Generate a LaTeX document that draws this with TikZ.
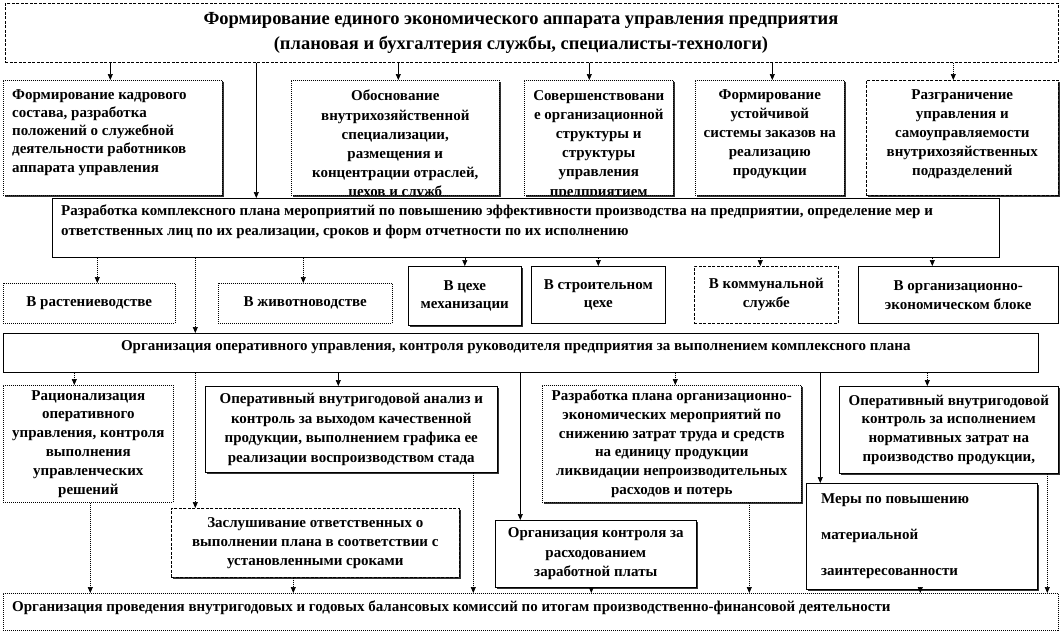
\documentclass[tikz,border=0pt]{standalone}
\usepackage{fontspec}
\setmainfont{Liberation Serif}
\usetikzlibrary{arrows.meta,calc,shadows}
\newcommand{\vconn}[5]{\draw[#1] ($(#2 -| #4)+(#5,0)$) -- ($(#3 -| #4)+(#5,0)$);}
\begin{document}
\begin{tikzpicture}[x=1pt,y=-1pt,
  every node/.style={font=\bfseries\fontsize{15}{18.8}\selectfont},
  box/.style={anchor=north west, inner sep=0pt, fill=white, line width=0.6pt, align=center},
  dotb/.style={box, draw, dash pattern=on 1pt off 1pt},
  dashb/.style={box, draw, dash pattern=on 3pt off 1.5pt},
  solb/.style={box, draw},
  shad/.style={drop shadow={shadow xshift=1.6pt, shadow yshift=-1.6pt, fill=black!80, opacity=1}},
  txt/.style={inner sep=0pt, align=center},
  ltxt/.style={inner sep=0pt, align=left, anchor=north west},
  arr/.style={-{Triangle[length=6pt,width=5pt]}, line width=0.6pt},
  darr/.style={arr, dash pattern=on 1pt off 1pt},
]
\useasboundingbox (0,0) rectangle (1063,635);

% ---- row 1
\node[dashb, minimum width=1053pt, minimum height=59pt] (top) at (5,3) {};
\node[txt, font=\bfseries\fontsize{18.5}{25}\selectfont] (ttl) at (521,33)
  {Формирование единого экономического аппарата управления предприятия\\(плановая и бухгалтерия службы, специалисты-технологи)};

% ---- row 2
\node[dotb, shad, minimum width=219pt, minimum height=115pt] (b1) at (3,80) {};
\node[ltxt, font=\bfseries\fontsize{15}{18.3}\selectfont] (b1t) at ($(b1.north west)+(9,9)$)
  {Формирование кадрового\\состава, разработка\\положений о служебной\\деятельности работников\\аппарата управления};

\node[dotb, shad, minimum width=208pt, minimum height=115pt] (b2) at (291,80) {};
\begin{scope}
\clip ($(b2.south west)+(1,-1)$) rectangle ($(b2.north east)+(-1,1)$);
\node[txt, anchor=north, font=\bfseries\fontsize{15}{19.2}\selectfont] (b2t) at ($(b2.north)+(0,10)$)
  {Обоснование\\внутрихозяйственной\\специализации,\\размещения и\\концентрации отраслей,\\цехов и служб};
\end{scope}

\node[dotb, shad, minimum width=149pt, minimum height=115pt] (b3) at (524,80) {};
\begin{scope}
\clip ($(b3.south west)+(1,-1)$) rectangle ($(b3.north east)+(-1,1)$);
\node[txt, anchor=north, font=\bfseries\fontsize{15}{19.2}\selectfont] (b3t) at ($(b3.north)+(0,10)$)
  {Совершенствовани\\е организационной\\структуры  и\\структуры\\управления\\предприятием};
\end{scope}

\node[dotb, shad, minimum width=149pt, minimum height=115pt] (b4) at (695,80) {};
\node[txt, anchor=north, font=\bfseries\fontsize{15}{19.2}\selectfont] (b4t) at ($(b4.north)+(0,9)$)
  {Формирование\\устойчивой\\системы заказов на\\реализацию\\продукции};

\node[dashb, shad, minimum width=192pt, minimum height=115pt] (b5) at (866,80) {};
\node[txt, anchor=north, font=\bfseries\fontsize{15}{19.2}\selectfont] (b5t) at ($(b5.north)+(0,9)$)
  {Разграничение\\управления и\\самоуправляемости\\внутрихозяйственных\\подразделений};

% ---- plan
\node[solb, minimum width=947pt, minimum height=59pt] (plan) at (52,198) {};
\node[ltxt, font=\bfseries\fontsize{15}{20}\selectfont] (plant) at ($(plan.north west)+(9,7)$)
  {Разработка комплексного  плана мероприятий по повышению эффективности  производства на предприятии, определение мер и\\ответственных лиц по их реализации, сроков и форм отчетности по их исполнению};

% ---- row 3
\node[dotb, minimum width=172pt, minimum height=40pt] (r1) at (3,283) {В растениеводстве};
\node[dotb, minimum width=174pt, minimum height=40pt] (r2) at (218,283) {В животноводстве};
\node[solb, shad, minimum width=113pt, minimum height=59pt] (r3) at (408,266) {В цехе\\механизации};
\node[solb, minimum width=134pt, minimum height=57pt] (r4) at (531,266) {В строительном\\цехе};
\node[dashb, minimum width=144pt, minimum height=57pt] (r5) at (694,266) {В коммунальной\\службе};
\node[solb, minimum width=200pt, minimum height=57pt] (r6) at (858,266) {В организационно-\\экономическом блоке};

% ---- org
\node[solb, minimum width=1035pt, minimum height=39pt] (org) at (3,333) {};
\node[txt] (orgt) at ($(org.north)+(-5,14)$)
  {Организация оперативного управления, контроля руководителя предприятия за выполнением комплексного плана};

% ---- row 4
\node[dotb, minimum width=170pt, minimum height=117pt] (q1) at (3,385)
  {Рационализация\\оперативного\\управления, контроля\\выполнения\\управленческих\\решений};
\node[solb, shad, minimum width=292pt, minimum height=86pt, font=\bfseries\fontsize{15}{19.5}\selectfont] (q2) at (205,386)
  {Оперативный внутригодовой анализ и\\контроль за выходом качественной\\продукции, выполнением графика ее\\реализации воспроизводством стада};
\node[dotb, shad, minimum width=259pt, minimum height=117pt] (q3) at (542,385)
  {Разработка плана организационно-\\экономических мероприятий по\\снижению затрат труда и средств\\на единицу продукции\\ликвидации непроизводительных\\расходов и потерь};
\node[solb, shad, minimum width=219pt, minimum height=87pt] (q4) at (839,386)
  {Оперативный внутригодовой\\контроль за исполнением\\нормативных затрат на\\производство продукции,};

% ---- row 5
\node[dashb, shad, minimum width=288pt, minimum height=69pt, font=\bfseries\fontsize{15}{19}\selectfont] (z) at (171,508)
  {Заслушивание ответственных о\\выполнении плана в соответствии с\\установленными сроками};
\node[solb, shad, minimum width=201pt, minimum height=67pt, font=\bfseries\fontsize{15}{19.5}\selectfont] (k) at (495,520)
  {Организация контроля за\\расходованием\\заработной платы};
\node[solb, shad, minimum width=231pt, minimum height=106pt] (m) at (806,483) {};
\node[ltxt, font=\bfseries\fontsize{15}{36}\selectfont] (mt) at ($(m.north west)+(15,10)$)
  {Меры по повышению\\материальной\\заинтересованности};

% ---- final
\node[dotb, minimum width=1055pt, minimum height=37pt] (fin) at (3,593) {};
\node[inner sep=0pt, anchor=west] (fint) at ($(fin.west)+(9,-4)$)
  {Организация проведения внутригодовых и годовых балансовых комиссий по итогам производственно-финансовой деятельности};

% ---- connectors
\vconn{arr}{top.south}{b1.north}{b1.north}{-2.5}
\vconn{arr}{top.south}{b2.north}{b2.north}{3}
\vconn{arr}{top.south}{b3.north}{b3.north}{-9.5}
\vconn{arr}{top.south}{b4.north}{b4.north}{2.5}
\vconn{darr}{top.south}{b5.north}{b5.north}{-9}
\vconn{arr}{top.south}{plan.north}{plan.north}{-269.5}

\vconn{darr}{plan.south}{r1.north}{r1.north}{8}
\vconn{darr}{plan.south}{r2.north}{r2.north}{-2}
\vconn{arr}{plan.south}{r3.north}{r3.north}{0}
\vconn{darr}{plan.south}{r4.north}{r4.north}{0}
\vconn{darr}{plan.south}{r5.north}{r5.north}{-6}
\vconn{darr}{plan.south}{r6.north}{r6.north}{-26}
\vconn{darr}{plan.south}{org.north}{org.north}{-325.5}

\vconn{darr}{org.south}{q1.north}{q1.north}{-14}
\vconn{arr}{org.south}{q2.north}{q2.north}{-13}
\vconn{darr}{org.south}{z.north}{z.north}{-120}
\vconn{arr}{org.south}{k.north}{k.north}{-75.5}
\vconn{darr}{org.south}{q3.north}{q3.north}{3.5}
\vconn{arr}{org.south}{m.north}{m.north}{-101.5}
\vconn{darr}{org.south}{q4.north}{q4.north}{-21.5}

\vconn{darr}{q1.south}{fin.north}{q1.south}{2}
\vconn{darr}{z.south}{fin.north}{z.south}{-22}
\vconn{darr}{q2.south}{fin.north}{q2.south}{122}
\vconn{darr}{k.south}{fin.north}{k.south}{-4.5}
\vconn{darr}{q3.south}{fin.north}{q3.south}{77.5}
\vconn{darr}{m.south}{fin.north}{m.south}{-1.5}
\vconn{darr}{q4.south}{fin.north}{q4.south}{98.5}
\end{tikzpicture}
\end{document}
